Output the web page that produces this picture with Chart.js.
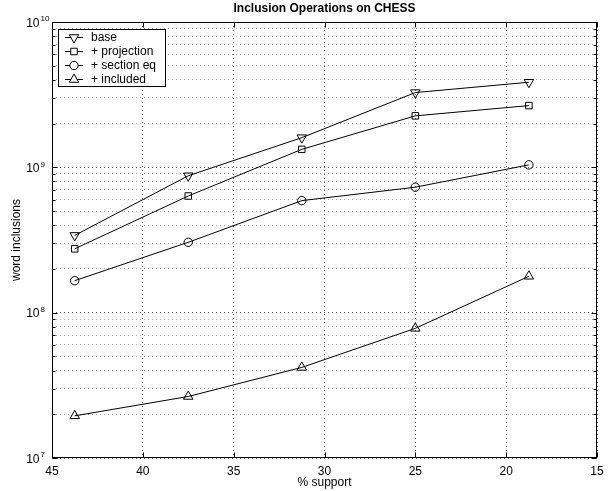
<!DOCTYPE html>
<html>
<head>
<meta charset="utf-8">
<script src="https://cdn.jsdelivr.net/npm/chart.js@4.4.0/dist/chart.umd.min.js"></script>
<style>
  html, body { margin: 0; padding: 0; background: #fff; }
</style>
</head>
<body>
<canvas id="chart" width="609" height="491"></canvas>
<script>
// support thresholds (x) and word inclusion counts per configuration
const supportPct   = [43.75, 37.5, 31.25, 25, 18.75];
const seriesNames  = ["base", "+ projection", "+ section eq", "+ included"];
const baseVals     = [3.4e8, 8.75e8, 1.6e9, 3.27e9, 3.85e9];
const projVals     = [2.75e8, 6.35e8, 1.33e9, 2.26e9, 2.66e9];
const sectionVals  = [1.66e8, 3.05e8, 5.9e8, 7.3e8, 1.04e9];
const includedVals = [1.95e7, 2.65e7, 4.2e7, 7.8e7, 1.78e8];

const xTicks   = [45, 40, 35, 30, 25, 20, 15];
const yDecades = [7, 8, 9, 10];

const FONT = "'Liberation Sans', Arial, Helvetica, sans-serif";

// decade ticks plus the 2..9 minor ticks in between
const yGridValues = [];
yDecades.forEach((d, i) => {
  const p = Math.pow(10, d);
  yGridValues.push(p);
  if (i < yDecades.length - 1) {
    for (let k = 2; k <= 9; k++) yGridValues.push(k * p);
  }
});

function isDecade(v) {
  const l = Math.log10(v);
  return Math.abs(l - Math.round(l)) < 1e-9;
}

function toPoints(vals) {
  return vals.map((v, i) => ({ x: supportPct[i], y: v }));
}

const markers = [
  { style: "triangle", rotation: 180, radius: 5.5 },
  { style: "rect",     rotation: 0,   radius: 4.6 },
  { style: "circle",   rotation: 0,   radius: 4.2 },
  { style: "triangle", rotation: 0,   radius: 5.5 },
];

const allVals = [baseVals, projVals, sectionVals, includedVals];

const datasets = allVals.map((vals, i) => ({
  label:            seriesNames[i],
  data:             toPoints(vals),
  borderColor:      "#000",
  borderWidth:      1,
  backgroundColor:  "rgba(0,0,0,0)",
  pointStyle:       markers[i].style,
  rotation:         markers[i].rotation,
  pointRadius:      markers[i].radius,
  pointBorderColor: "#000",
  pointBorderWidth: 1,
  pointBackgroundColor: "rgba(0,0,0,0)",
  tension:          0,
  clip:             false,
}));

// box, inner ticks, tick labels, titles and the legend
const framePlugin = {
  id: "frame",

  afterDatasetsDraw(chart) {
    const { ctx } = chart;
    const bx = 58, by = 29, bw = 107, bh = 57;

    ctx.save();
    ctx.fillStyle = "#fff";
    ctx.fillRect(bx, by, bw, bh);
    ctx.strokeStyle = "#000";
    ctx.lineWidth = 1;
    ctx.strokeRect(bx + 0.5, by + 0.5, bw, bh);

    ctx.font = `12px ${FONT}`;
    ctx.textBaseline = "middle";
    ctx.textAlign = "left";
    chart.data.datasets.forEach((ds, i) => {
      const y = by + 8.5 + i * 14;
      ctx.beginPath();
      ctx.moveTo(65, y);
      ctx.lineTo(83, y);
      ctx.strokeStyle = "#000";
      ctx.stroke();
      ctx.fillStyle = "#fff";
      Chart.helpers.drawPoint(ctx, {
        pointStyle:  ds.pointStyle,
        rotation:    ds.rotation,
        radius:      ds.pointRadius,
        borderWidth: 1,
      }, 74, y);
      ctx.fillStyle = "#000";
      ctx.fillText(ds.label, 91, y + 0.5);
    });
    ctx.restore();
  },

  afterDraw(chart) {
    const { ctx, chartArea: a, scales } = chart;
    const L = Math.round(a.left) + 0.5, R = Math.round(a.right) - 0.5;
    const T = Math.round(a.top) + 0.5,  B = Math.round(a.bottom) - 0.5;

    ctx.save();
    ctx.strokeStyle = "#000";
    ctx.lineWidth = 1;
    ctx.strokeRect(L, T, R - L, B - T);

    // inner tick marks
    ctx.beginPath();
    yGridValues.forEach(v => {
      const y = Math.round(scales.y.getPixelForValue(v)) + 0.5;
      const len = isDecade(v) ? 5 : 3;
      ctx.moveTo(L, y); ctx.lineTo(L + len, y);
      ctx.moveTo(R, y); ctx.lineTo(R - len, y);
    });
    xTicks.forEach(v => {
      const x = Math.round(scales.x.getPixelForValue(v)) + 0.5;
      ctx.moveTo(x, B); ctx.lineTo(x, B - 5);
      ctx.moveTo(x, T); ctx.lineTo(x, T + 5);
    });
    ctx.stroke();

    ctx.fillStyle = "#000";
    ctx.textBaseline = "middle";

    // x tick labels
    ctx.font = `12px ${FONT}`;
    ctx.textAlign = "center";
    xTicks.forEach(v => {
      ctx.fillText(String(v), scales.x.getPixelForValue(v), B + 14);
    });

    // y decade labels as 10 with a raised exponent
    yDecades.forEach(d => {
      const y = scales.y.getPixelForValue(Math.pow(10, d));
      ctx.font = `12px ${FONT}`;
      ctx.textAlign = "right";
      ctx.fillText("10", 39.5, y + 1.5);
      ctx.font = `8px ${FONT}`;
      ctx.textAlign = "left";
      ctx.fillText(String(d), 40.5, y - 3);
    });

    // axis titles
    ctx.font = `12px ${FONT}`;
    ctx.textAlign = "center";
    ctx.fillText("% support", (a.left + a.right) / 2, B + 25);

    ctx.save();
    ctx.translate(17, (a.top + a.bottom) / 2);
    ctx.rotate(-Math.PI / 2);
    ctx.fillText("word inclusions", 0, 0);
    ctx.restore();

    ctx.font = `bold 12px ${FONT}`;
    ctx.fillText("Inclusion Operations on CHESS", (a.left + a.right) / 2, 9);
    ctx.restore();
  }
};

new Chart(document.getElementById("chart"), {
  type: "line",
  data: { datasets },
  plugins: [framePlugin],
  options: {
    responsive: false,
    animation: false,
    layout: { padding: { left: 52, right: 12, top: 22, bottom: 33 } },
    scales: {
      x: {
        type: "linear",
        min: 15,
        max: 45,
        reverse: true,
        afterBuildTicks: scale => { scale.ticks = xTicks.map(v => ({ value: v })); },
        ticks: { display: false },
        grid: { color: "#555", lineWidth: 1, drawTicks: false },
        border: { display: false, dash: [1, 3] },
      },
      y: {
        type: "logarithmic",
        min: 1e7,
        max: 1e10,
        afterBuildTicks: scale => { scale.ticks = yGridValues.map(v => ({ value: v })); },
        ticks: { display: false },
        grid: {
          color: ctx => isDecade(ctx.tick.value) ? "#555" : "#aaa",
          lineWidth: 1,
          drawTicks: false,
        },
        border: { display: false, dash: [1, 3] },
      },
    },
    plugins: {
      legend: { display: false },
      tooltip: { enabled: false },
      title: { display: false },
    },
  },
});
</script>
</body>
</html>
